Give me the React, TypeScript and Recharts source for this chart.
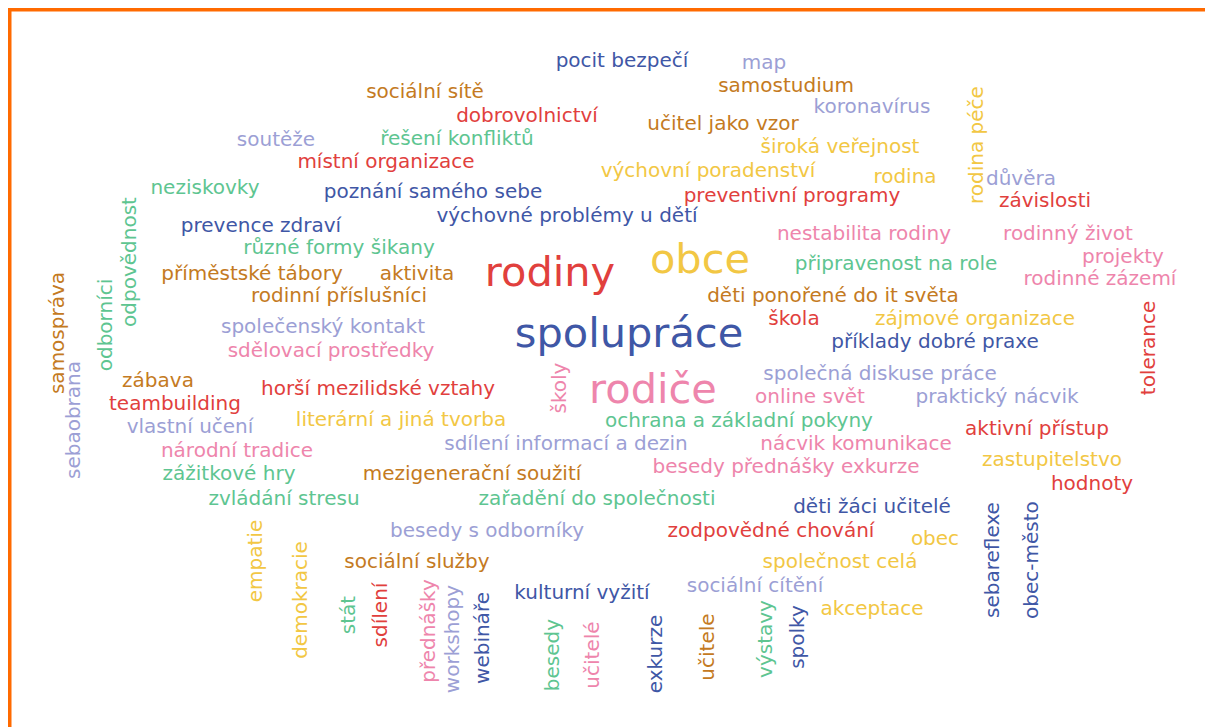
import React from "react";
import { ScatterChart, Scatter, XAxis, YAxis, ReferenceLine } from "recharts";

// [word, x, y, weight, rotation]
type W = [string, number, number, number, number];

const blueWords: W[] = [
  ["pocit bezpečí", 622, 60, 1, 0],
  ["poznání samého sebe", 433, 191, 1, 0],
  ["prevence zdraví", 261, 225, 1, 0],
  ["výchovné problémy u dětí", 567, 215, 1, 0],
  ["spolupráce", 629, 332, 4, 0],
  ["příklady dobré praxe", 935, 341, 1, 0],
  ["děti žáci učitelé", 872, 506, 1, 0],
  ["kulturní vyžití", 582, 592, 1, 0],
  ["webináře", 482, 638, 1, 90],
  ["exkurze", 655, 654, 1, 90],
  ["spolky", 797, 637, 1, 90],
  ["sebareflexe", 992, 560, 1, 90],
  ["obec-město", 1031, 560, 1, 90],
];

const lavenderWords: W[] = [
  ["map", 764, 62, 1, 0],
  ["koronavírus", 872, 106, 1, 0],
  ["soutěže", 276, 139, 1, 0],
  ["důvěra", 1021, 178, 1, 0],
  ["společenský kontakt", 323, 326, 1, 0],
  ["společná diskuse práce", 880, 373, 1, 0],
  ["praktický nácvik", 997, 396, 1, 0],
  ["vlastní učení", 190, 426, 1, 0],
  ["sdílení informací a dezin", 566, 443, 1, 0],
  ["besedy s odborníky", 487, 530, 1, 0],
  ["sociální cítění", 755, 585, 1, 0],
  ["sebaobrana", 73, 420, 1, 90],
  ["workshopy", 452, 639, 1, 90],
];

const brownWords: W[] = [
  ["samostudium", 786, 85, 1, 0],
  ["sociální sítě", 425, 91, 1, 0],
  ["učitel jako vzor", 723, 123, 1, 0],
  ["příměstské tábory", 252, 273, 1, 0],
  ["aktivita", 417, 273, 1, 0],
  ["rodinní příslušníci", 339, 295, 1, 0],
  ["děti ponořené do it světa", 833, 295, 1, 0],
  ["zábava", 158, 380, 1, 0],
  ["mezigenerační soužití", 472, 473, 1, 0],
  ["sociální služby", 417, 561, 1, 0],
  ["samospráva", 57, 333, 1, 90],
  ["učitele", 707, 647, 1, 90],
];

const redWords: W[] = [
  ["dobrovolnictví", 527, 115, 1, 0],
  ["místní organizace", 386, 161, 1, 0],
  ["preventivní programy", 792, 195, 1, 0],
  ["závislosti", 1045, 200, 1, 0],
  ["rodiny", 550, 271, 4, 0],
  ["škola", 794, 318, 1, 0],
  ["horší mezilidské vztahy", 378, 388, 1, 0],
  ["teambuilding", 175, 403, 1, 0],
  ["aktivní přístup", 1037, 428, 1, 0],
  ["hodnoty", 1092, 483, 1, 0],
  ["zodpovědné chování", 771, 530, 1, 0],
  ["tolerance", 1148, 348, 1, 90],
  ["sdílení", 380, 615, 1, 90],
];

const yellowWords: W[] = [
  ["široká veřejnost", 840, 146, 1, 0],
  ["výchovní poradenství", 708, 170, 1, 0],
  ["rodina", 905, 176, 1, 0],
  ["obce", 700, 258, 4, 0],
  ["zájmové organizace", 975, 318, 1, 0],
  ["literární a jiná tvorba", 401, 419, 1, 0],
  ["zastupitelstvo", 1052, 459, 1, 0],
  ["obec", 935, 538, 1, 0],
  ["společnost celá", 840, 561, 1, 0],
  ["akceptace", 872, 608, 1, 0],
  ["rodina péče", 976, 145, 1, 90],
  ["empatie", 255, 561, 1, 90],
  ["demokracie", 300, 600, 1, 90],
];

const greenWords: W[] = [
  ["řešení konfliktů", 457, 138, 1, 0],
  ["neziskovky", 205, 187, 1, 0],
  ["různé formy šikany", 339, 247, 1, 0],
  ["připravenost na role", 896, 263, 1, 0],
  ["ochrana a základní pokyny", 739, 420, 1, 0],
  ["zážitkové hry", 229, 473, 1, 0],
  ["zvládání stresu", 284, 498, 1, 0],
  ["zařadění do společnosti", 597, 498, 1, 0],
  ["odpovědnost", 129, 262, 1, 90],
  ["odborníci", 105, 325, 1, 90],
  ["stát", 348, 615, 1, 90],
  ["besedy", 552, 655, 1, 90],
  ["výstavy", 765, 639, 1, 90],
];

const pinkWords: W[] = [
  ["nestabilita rodiny", 864, 233, 1, 0],
  ["rodinný život", 1068, 233, 1, 0],
  ["projekty", 1123, 256, 1, 0],
  ["rodinné zázemí", 1100, 278, 1, 0],
  ["sdělovací prostředky", 331, 350, 1, 0],
  ["rodiče", 653, 388, 4, 0],
  ["online svět", 810, 396, 1, 0],
  ["národní tradice", 237, 450, 1, 0],
  ["nácvik komunikace", 856, 443, 1, 0],
  ["besedy přednášky exkurze", 786, 466, 1, 0],
  ["školy", 559, 388, 1, 90],
  ["přednášky", 428, 631, 1, 90],
  ["učitelé", 592, 655, 1, 90],
];

const groups: { name: string; words: W[]; color: string }[] = [
  { name: "blue", words: blueWords, color: "#3F57A6" },
  { name: "lavender", words: lavenderWords, color: "#9C9FD5" },
  { name: "brown", words: brownWords, color: "#C47A22" },
  { name: "red", words: redWords, color: "#E1403D" },
  { name: "yellow", words: yellowWords, color: "#F2C744" },
  { name: "green", words: greenWords, color: "#5EC591" },
  { name: "pink", words: pinkWords, color: "#EE85AC" },
];

const toRows = (ws: W[]) =>
  ws.map(([text, x, y, weight, rot]) => ({ text, x, y, weight, rot }));

const fontFor = (weight: number) => (weight >= 4 ? 41.5 : 20);

const makeShape = (color: string) => (props: any) => {
  const { cx, cy, payload } = props;
  if (cx == null || cy == null) return <g />;
  const fs = fontFor(payload.weight);
  return (
    <text
      x={cx}
      y={cy}
      fill={color}
      fontSize={fs}
      fontFamily="'DejaVu Sans', sans-serif"
      textAnchor="middle"
      dominantBaseline="central"
      transform={payload.rot ? `rotate(-90 ${cx} ${cy})` : undefined}
    >
      {payload.text}
    </text>
  );
};

export default function App() {
  return (
    <div style={{ width: 1205, height: 719, background: "#ffffff" }}>
      <ScatterChart width={1205} height={719} margin={{ top: 0, right: 0, bottom: 0, left: 0 }}>
        <XAxis type="number" dataKey="x" domain={[8, 1213]} hide allowDataOverflow />
        <YAxis type="number" dataKey="y" domain={[8, 727]} reversed hide allowDataOverflow />
        <ReferenceLine x={9.5} stroke="#FF6A00" strokeWidth={4} />
        <ReferenceLine y={9.5} stroke="#FF6A00" strokeWidth={4} />
        {groups.map((g) => (
          <Scatter
            key={g.name}
            name={g.name}
            data={toRows(g.words)}
            fill={g.color}
            shape={makeShape(g.color)}
            isAnimationActive={false}
          />
        ))}
      </ScatterChart>
    </div>
  );
}
